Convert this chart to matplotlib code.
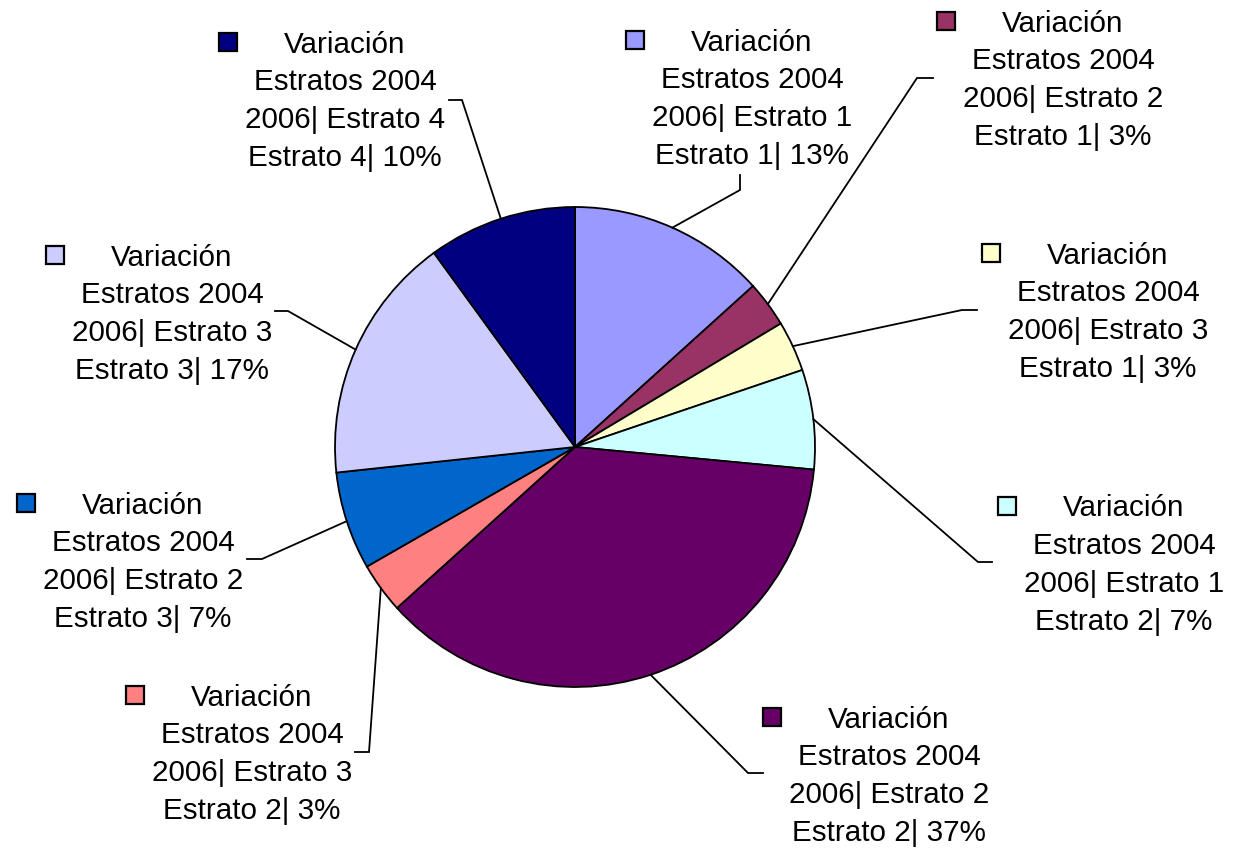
import matplotlib
matplotlib.use("Agg")
import matplotlib.pyplot as plt
from matplotlib.patches import Rectangle
import numpy as np

# Data (shares in %, read clockwise from 12 o'clock)
estrato_2006 = ["1", "2", "3", "1", "2", "3", "2", "3", "4"]
estrato_2004 = ["1", "1", "1", "2", "2", "2", "3", "3", "4"]
shares = [13.3, 3.1, 3.4, 6.7, 36.8, 3.4, 6.6, 16.7, 10.0]
colors = ["#9999FF", "#993366", "#FFFFCC", "#CCFFFF", "#660066",
          "#FF8080", "#0066CC", "#CCCCFF", "#000080"]

# Layout (pixel coords, y from top)
W, H = 1237, 849
cx, cy, R = 575, 447, 240
# text centre x, first line centre y
text_pos = [(752, 40), (1063, 21), (1108, 253), (1124, 506), (889, 717),
            (252, 695), (143, 503), (172, 255), (345, 42)]
# leader knee and tail
knees = [(740, 190), (917, 78), (962, 310), (978, 562), (748, 773),
         (369, 752), (262, 559), (288, 311), (462, 100)]
tails = [(740, 175), (933, 78), (977, 310), (992, 562), (763, 773),
         (355, 752), (247, 559), (275, 311), (449, 100)]

plt.rcParams['font.family'] = ['Liberation Sans', 'DejaVu Sans']

def py(y):
    return H - y

fig = plt.figure(figsize=(W / 100, H / 100), dpi=100)
ax = fig.add_axes([0, 0, 1, 1])

ax.pie(shares, colors=colors, startangle=90, counterclock=False,
       center=(cx, py(cy)), radius=R,
       wedgeprops=dict(edgecolor="black", linewidth=1.3))

ax.set_xlim(0, W)
ax.set_ylim(0, H)
ax.set_aspect("equal")
ax.axis("off")

total = sum(shares)
cum = np.cumsum([0] + shares[:-1])
fs = 21.3
line_h = 37.7
msize = 18

for i, v in enumerate(shares):
    # mid angle, clockwise from top
    mid = (cum[i] + v / 2) / total * 2 * np.pi
    ex = cx + R * np.sin(mid)
    ey = cy - R * np.cos(mid)
    kx, ky = knees[i]
    tx, ty = tails[i]
    ax.plot([ex, kx, tx], [py(ey), py(ky), py(ty)], color="black", lw=1.3,
            solid_joinstyle="miter")

    lx, ly = text_pos[i]
    lines = ["Variación", "Estratos 2004",
             f"2006| Estrato {estrato_2006[i]}",
             f"Estrato {estrato_2004[i]}| {v:.0f}%"]
    for j, s in enumerate(lines):
        ax.text(lx, py(ly + j * line_h + 10.5), s, fontsize=fs,
                ha="center", va="baseline", color="black")
    ax.add_patch(Rectangle((lx - 117 - msize / 2, py(ly + msize / 2)), msize, msize,
                           facecolor=colors[i], edgecolor="black", lw=1.6))

fig.savefig("out.png", dpi=100, facecolor="white")
